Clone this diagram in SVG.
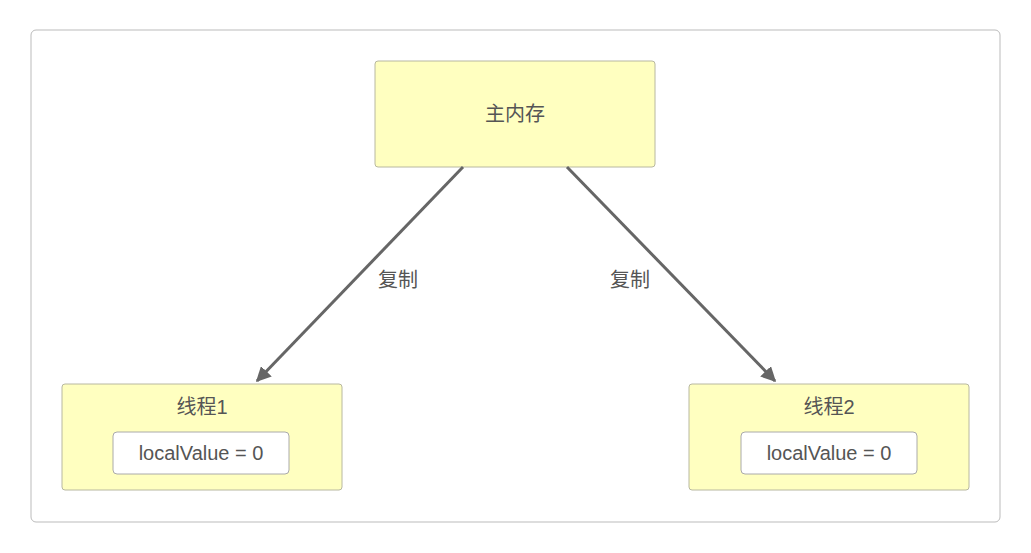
<svg xmlns="http://www.w3.org/2000/svg" width="1031" height="553" viewBox="0 0 1031 553">
<defs>
<style>
.box{fill:#ffffc0;stroke:#b8b8a0;stroke-width:1}
.in{fill:#fff;stroke:#aaa;stroke-width:1}
.t{font-family:"Liberation Sans","Noto Sans CJK SC",sans-serif;font-size:20px;fill:#555;text-anchor:middle}
.e{stroke:#666;stroke-width:3;fill:none;marker-end:url(#a)}
</style>
<marker id="a" viewBox="0 0 10 10" refX="9" refY="5" markerWidth="5" markerHeight="5" orient="auto" markerUnits="strokeWidth"><path d="M0,0L10,5L0,10z" fill="#666"/></marker>
</defs>
<rect width="1031" height="553" fill="#fff"/>
<rect x="31" y="30" width="969" height="492" rx="5" fill="#fff" stroke="#bbb"/>
<g id="main"><rect class="box" x="375" y="61" width="280" height="106" rx="3"/><text class="t" x="515" y="121">主内存</text></g>
<g id="t1"><rect class="box" x="62" y="384" width="280" height="106" rx="3"/><text class="t" x="202" y="414">线程1</text><rect class="in" x="113" y="432" width="176" height="42" rx="4"/><text class="t" x="201" y="460">localValue = 0</text></g>
<g id="t2"><rect class="box" x="689" y="384" width="280" height="106" rx="3"/><text class="t" x="829" y="414">线程2</text><rect class="in" x="741" y="432" width="176" height="42" rx="4"/><text class="t" x="829" y="460">localValue = 0</text></g>
<g id="edges">
<path class="e" d="M463,167L257,381"/>
<path class="e" d="M567,167L775,381"/>
<text class="t" x="398" y="287">复制</text>
<text class="t" x="630" y="287">复制</text>
</g>
</svg>
